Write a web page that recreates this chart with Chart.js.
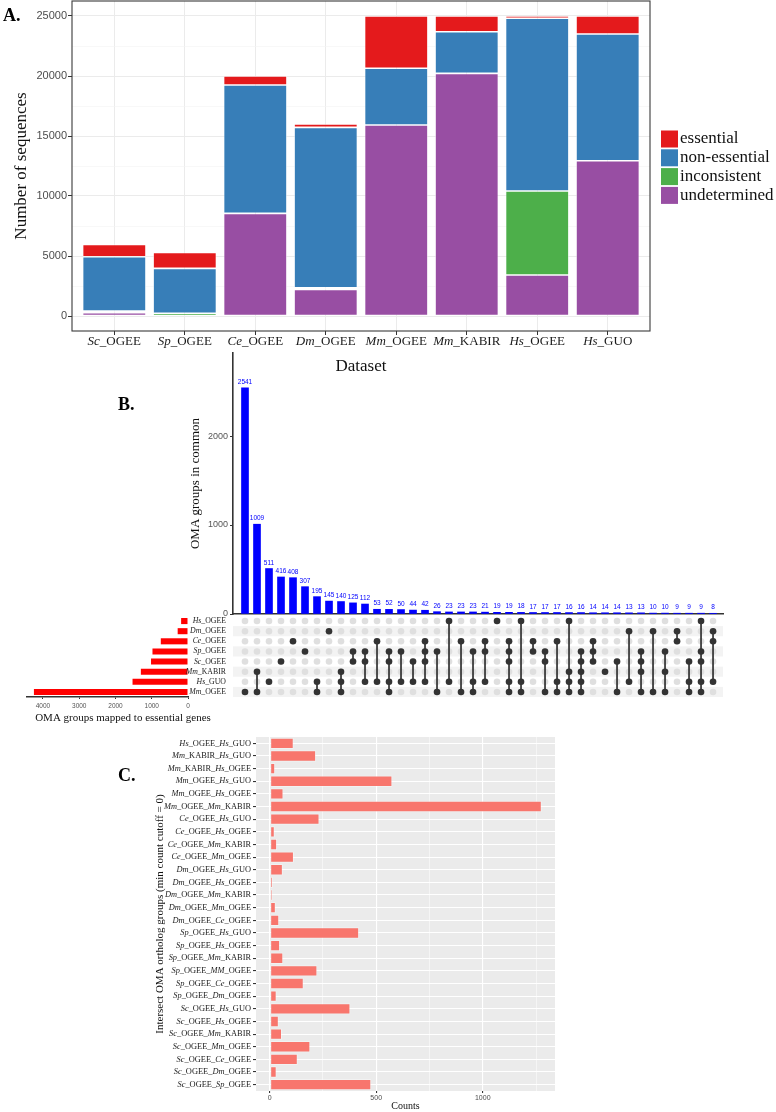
<!DOCTYPE html>
<html><head><meta charset="utf-8">
<script src="https://cdn.jsdelivr.net/npm/chart.js@4.4.1/dist/chart.umd.min.js"></script>
<style>
html,body{margin:0;padding:0;background:#ffffff;}
#wrap{position:relative;width:776px;height:1112px;overflow:hidden;background:#fff;}
#wrap canvas{position:absolute;}
</style></head><body>
<div id="wrap">
<canvas id="cA" width="776" height="385" style="left:0px;top:0px"></canvas>
<canvas id="cB" width="676" height="280" style="left:100px;top:340px"></canvas>
<canvas id="cS" width="232" height="115" style="left:0px;top:612px"></canvas>
<canvas id="cM" width="576" height="90" style="left:200px;top:612px"></canvas>
<canvas id="cC" width="676" height="382" style="left:100px;top:730px"></canvas>
</div>
<script>
const SERIF = '"Liberation Serif","Times New Roman",serif';
const SANS = '"Liberation Sans",Arial,sans-serif';

// ---------- Panel A data ----------
const datasetNames = ['Sc_OGEE','Sp_OGEE','Ce_OGEE','Dm_OGEE','Mm_OGEE','Mm_KABIR','Hs_OGEE','Hs_GUO'];
const essentialCounts = [1030,1330,750,280,4360,1310,190,1500];
const nonEssentialCounts = [4520,3740,10700,13360,4720,3470,14390,10560];
const inconsistentCounts = [140,200,0,140,0,0,7000,0];
const undeterminedCounts = [280,30,8550,2220,15920,20220,3420,12940];
const sequenceTicks = [0,5000,10000,15000,20000,25000];

// ---------- Panel B data ----------
const intersectCounts = [2541,1009,511,416,408,307,195,145,140,125,112,53,52,50,44,42,26,23,23,23,21,19,19,18,17,17,17,16,16,14,14,14,13,13,10,10,9,9,9,8];
const setNames = ['Hs_OGEE','Dm_OGEE','Ce_OGEE','Sp_OGEE','Sc_OGEE','Mm_KABIR','Hs_GUO','Mm_OGEE'];
const intersectMembers = [[7],[5,7],[6],[4],[2],[3],[6,7],[1],[5,6,7],[3,4],[3,4,6],[2,6],[3,4,6,7],[3,6],[4,6],[2,3,4,6],[3,7],[0,6],[2,7],[3,6,7],[2,3,6],[0],[2,3,4,6,7],[0,6,7],[2,3],[3,4,7],[2,6,7],[0,5,6,7],[3,4,5,6,7],[2,3,4],[5],[4,7],[1,6],[3,4,5,7],[1,7],[3,5,7],[1,2],[4,6,7],[0,3,4,6,7],[1,2,6]];
const setSizes = [190,285,750,980,1020,1300,1530,4250];
const commonTicks = [0,1000,2000];
const setSizeTicks = [0,1000,2000,3000,4000];

// ---------- Panel C data ----------
const pairLabels = ['Hs_OGEE_Hs_GUO','Mm_KABIR_Hs_GUO','Mm_KABIR_Hs_OGEE','Mm_OGEE_Hs_GUO','Mm_OGEE_Hs_OGEE','Mm_OGEE_Mm_KABIR','Ce_OGEE_Hs_GUO','Ce_OGEE_Hs_OGEE','Ce_OGEE_Mm_KABIR','Ce_OGEE_Mm_OGEE','Dm_OGEE_Hs_GUO','Dm_OGEE_Hs_OGEE','Dm_OGEE_Mm_KABIR','Dm_OGEE_Mm_OGEE','Dm_OGEE_Ce_OGEE','Sp_OGEE_Hs_GUO','Sp_OGEE_Hs_OGEE','Sp_OGEE_Mm_KABIR','Sp_OGEE_MM_OGEE','Sp_OGEE_Ce_OGEE','Sp_OGEE_Dm_OGEE','Sc_OGEE_Hs_GUO','Sc_OGEE_Hs_OGEE','Sc_OGEE_Mm_KABIR','Sc_OGEE_Mm_OGEE','Sc_OGEE_Ce_OGEE','Sc_OGEE_Dm_OGEE','Sc_OGEE_Sp_OGEE'];
const pairCounts = [113,218,26,576,65,1277,234,24,35,114,62,15,14,29,45,420,49,64,224,160,33,379,43,58,191,132,33,477];
const countTicks = [0,500,1000];

// ---------- helpers ----------
const SPECIES = new Set(['Sc','Sp','Ce','Dm','Mm','Hs','MM']);
function segments(text){
  const out=[];
  text.split('_').forEach((t,i)=>{
    const sep = i>0 ? '_' : '';
    if (SPECIES.has(t)) { if (sep) out.push({t:sep,it:false}); out.push({t:t,it:true}); }
    else out.push({t:sep+t,it:false});
  });
  const merged=[];
  out.forEach(s=>{ const l=merged[merged.length-1]; if(l && l.it===s.it) l.t+=s.t; else merged.push({t:s.t,it:s.it}); });
  return merged;
}
function drawMixed(ctx,text,x,y,size,align,color){
  const segs=segments(text);
  let total=0;
  segs.forEach(g=>{ ctx.font=(g.it?'italic ':'')+size+'px '+SERIF; g.w=ctx.measureText(g.t).width; total+=g.w; });
  let cx = align==='right' ? x-total : (align==='center' ? x-total/2 : x);
  ctx.save(); ctx.fillStyle=color; ctx.textBaseline='middle'; ctx.textAlign='left';
  segs.forEach(g=>{ ctx.font=(g.it?'italic ':'')+size+'px '+SERIF; ctx.fillText(g.t,cx,y); cx+=g.w; });
  ctx.restore();
}
function drawText(ctx,text,x,y,font,color,align){
  ctx.save(); ctx.font=font; ctx.fillStyle=color; ctx.textAlign=align||'left'; ctx.textBaseline='middle';
  ctx.fillText(text,x,y); ctx.restore();
}
function fixW(w){ return s=>{ s.width=w; s.paddingTop=0; s.paddingBottom=0; s.paddingLeft=0; s.paddingRight=0; }; }
function fixH(h){ return s=>{ s.height=h; s.paddingTop=0; s.paddingBottom=0; s.paddingLeft=0; s.paddingRight=0; }; }
function withMinor(ticks){
  const out=[];
  ticks.forEach((v,i)=>{ out.push(v); if(i<ticks.length-1) out.push((v+ticks[i+1])/2); });
  return out;
}
const base = {responsive:false, animation:false, devicePixelRatio:1, events:[],
  plugins:{legend:{display:false}, tooltip:{enabled:false}}};
const isMajor = (c, list) => c.tick && list.includes(c.tick.value);

// ---------- Panel A ----------
const pts = arr => arr.map((v,i)=>({x:i,y:v}));
const gridA = withMinor(sequenceTicks).concat([sequenceTicks[sequenceTicks.length-1]+ (sequenceTicks[1]-sequenceTicks[0])/2]);
const plugA = {id:'plugA',
  afterDraw(chart){
    const {ctx, chartArea:a, scales} = chart;
    ctx.save(); ctx.strokeStyle='#3a3a3a'; ctx.lineWidth=1.1;
    ctx.strokeRect(a.left, a.top, a.right-a.left, a.bottom-a.top); ctx.restore();
    datasetNames.forEach((n,i)=> drawMixed(ctx,n,scales.x.getPixelForValue(i),342,13,'center','#1a1a1a'));
    const ds = chart.data.datasets.slice().reverse();
    ds.forEach((d,i)=>{
      const yc = 139 + i*18.8;
      ctx.save(); ctx.fillStyle=d.backgroundColor; ctx.fillRect(661,yc-8.5,17,17); ctx.restore();
      drawText(ctx,d.label,680,yc,'17px '+SERIF,'#111','left');
    });
    drawText(ctx,'A.',3,16,'bold 18px '+SERIF,'#000','left');
  }};
new Chart(document.getElementById('cA'),{
  type:'bar',
  data:{datasets:[
    {label:'undetermined', data:pts(undeterminedCounts), backgroundColor:'#984EA3'},
    {label:'inconsistent', data:pts(inconsistentCounts), backgroundColor:'#4DAF4A'},
    {label:'non-essential', data:pts(nonEssentialCounts), backgroundColor:'#377EB8'},
    {label:'essential', data:pts(essentialCounts), backgroundColor:'#E41A1C'}
  ]},
  options:{...base,
    layout:{padding:{top:1,right:126,left:0,bottom:0}, autoPadding:false},
    datasets:{bar:{barPercentage:1, categoryPercentage:0.9, borderColor:'rgba(255,255,255,0.6)', borderWidth:0.8, borderSkipped:false}},
    scales:{
      x:{type:'linear', stacked:true, min:-0.6, max:7.6, offset:false,
        afterBuildTicks:s=>{ s.ticks = datasetNames.map((_,i)=>({value:i})); },
        ticks:{display:false},
        grid:{offset:false, color:'#EBEBEB', lineWidth:1, tickColor:'#333', tickLength:4},
        border:{display:false},
        title:{display:true, text:'Dataset', font:{family:SERIF,size:17}, color:'#111', padding:{top:0,bottom:7.8}},
        afterFit:fixH(54)},
      y:{type:'linear', stacked:true, min:-1250, max:26250,
        afterBuildTicks:s=>{ s.ticks = gridA.map(v=>({value:v})); },
        ticks:{callback:v=>sequenceTicks.includes(v)?String(v):'', font:{family:SANS,size:11}, color:'#4D4D4D', padding:1, autoSkip:false},
        grid:{color:c=>isMajor(c,sequenceTicks)?'#EBEBEB':'#F3F3F3', lineWidth:c=>isMajor(c,sequenceTicks)?1:0.6,
              tickColor:c=>isMajor(c,sequenceTicks)?'#333':'rgba(0,0,0,0)', tickLength:4},
        border:{display:false},
        title:{display:true, text:'Number of sequences', font:{family:SERIF,size:17}, color:'#111', padding:{top:11.8,bottom:0}},
        afterFit:fixW(72)}
    }},
  plugins:[plugA]
});

// ---------- Panel B (intersection bars) ----------
const plugB = {id:'plugB',
  afterDatasetsDraw(chart){
    const ctx=chart.ctx; const meta=chart.getDatasetMeta(0);
    ctx.save(); ctx.font='6.5px '+SANS; ctx.fillStyle='#0000FF'; ctx.textAlign='center'; ctx.textBaseline='bottom';
    meta.data.forEach((el,i)=>ctx.fillText(String(intersectCounts[i]), el.x, el.y-2.5));
    ctx.restore();
    drawText(ctx,'B.',18,65,'bold 18px '+SERIF,'#000','left');
  }};
new Chart(document.getElementById('cB'),{
  type:'bar',
  data:{datasets:[{data:intersectCounts.map((v,i)=>({x:i,y:v})), backgroundColor:'#0000FF', barThickness:7}]},
  options:{...base,
    layout:{padding:{top:13,right:53,left:0,bottom:0}, autoPadding:false},
    scales:{
      x:{type:'linear', min:-1, max:39.83, offset:false, ticks:{display:false}, grid:{display:false},
        border:{display:true,color:'#333',width:1.6}, afterFit:fixH(6)},
      y:{type:'linear', min:0, max:2933,
        afterBuildTicks:s=>{ s.ticks = commonTicks.map(v=>({value:v})); },
        ticks:{callback:v=>String(v), font:{family:SANS,size:9}, color:'#555', padding:2, autoSkip:false},
        grid:{drawOnChartArea:false, drawTicks:true, tickLength:3, color:'#333'},
        border:{display:true,color:'#333',width:1.6},
        title:{display:true, text:'OMA groups in common', font:{family:SERIF,size:13}, color:'#111', padding:{top:88.2,bottom:0}},
        afterFit:fixW(133)}
    }},
  plugins:[plugB]
});

// ---------- Panel B (set sizes) ----------
const plugS = {id:'plugS',
  afterDraw(chart){
    const ctx=chart.ctx; const y=chart.scales.y;
    setNames.forEach((n,i)=>drawMixed(ctx,n,226,y.getPixelForValue(i),7.8,'right','#222'));
    drawText(ctx,'OMA groups mapped to essential genes',123,106,'11px '+SERIF,'#111','center');
  }};
new Chart(document.getElementById('cS'),{
  type:'bar',
  data:{labels:setNames, datasets:[{data:setSizes, backgroundColor:'#FF0000', barPercentage:0.6, categoryPercentage:1}]},
  options:{...base, indexAxis:'y',
    layout:{padding:{top:4,right:0,left:27,bottom:0}, autoPadding:false},
    scales:{
      x:{type:'linear', reverse:true, min:0, max:4441, position:'bottom',
        afterBuildTicks:s=>{ s.ticks = setSizeTicks.map(v=>({value:v})); },
        ticks:{callback:v=>String(v), font:{family:SANS,size:6.5}, color:'#555', padding:3, autoSkip:false, maxRotation:0},
        grid:{drawOnChartArea:false, drawTicks:true, tickLength:2, color:'#333'},
        border:{display:true,color:'#333',width:1.5},
        afterFit:fixH(30)},
      y:{position:'right', ticks:{display:false}, grid:{display:false}, border:{display:false}, afterFit:fixW(44)}
    }},
  plugins:[plugS]
});

// ---------- Panel B (matrix) ----------
const gridPts=[]; intersectCounts.forEach((_,c)=>setNames.forEach((_,r)=>gridPts.push({x:c,y:r})));
const memberPts=[]; intersectMembers.forEach((m,c)=>m.forEach(r=>memberPts.push({x:c,y:r})));
const linkPts=[]; intersectMembers.forEach((m,c)=>{ if(m.length>1){ linkPts.push({x:c,y:Math.min(...m)},{x:c,y:Math.max(...m)},{x:c,y:null}); } });
const plugM = {id:'plugM',
  beforeDatasetsDraw(chart){
    const {ctx, chartArea:a, scales:{y}} = chart;
    ctx.save(); ctx.fillStyle='#F3F3F3';
    setNames.forEach((_,r)=>{ if(r%2===1){ const y0=y.getPixelForValue(r-0.5), y1=y.getPixelForValue(r+0.5); ctx.fillRect(a.left,Math.min(y0,y1),a.right-a.left,Math.abs(y1-y0)); } });
    ctx.restore();
  }};
new Chart(document.getElementById('cM'),{
  type:'scatter',
  data:{datasets:[
    {data:memberPts, backgroundColor:'#333333', borderColor:'#333333', pointRadius:3.3, borderWidth:0},
    {data:linkPts, showLine:true, spanGaps:false, borderColor:'#333333', borderWidth:1.7, pointRadius:0},
    {data:gridPts, backgroundColor:'#DFDFDF', borderColor:'#DFDFDF', pointRadius:3.3, borderWidth:0}
  ]},
  options:{...base,
    layout:{padding:{top:4,right:53,left:33,bottom:5}, autoPadding:false},
    scales:{
      x:{type:'linear', min:-1, max:39.83, display:false},
      y:{type:'linear', min:-0.5, max:7.5, reverse:true, display:false}
    }},
  plugins:[plugM]
});

// ---------- Panel C ----------
const gridC = withMinor(countTicks).concat([countTicks[countTicks.length-1]+(countTicks[1]-countTicks[0])/2]);
const plugC = {id:'plugC',
  beforeDraw(chart){
    const {ctx, chartArea:a} = chart;
    ctx.save(); ctx.fillStyle='#EBEBEB'; ctx.fillRect(a.left,a.top,a.right-a.left,a.bottom-a.top); ctx.restore();
  },
  afterDraw(chart){
    const ctx=chart.ctx; const y=chart.scales.y;
    pairLabels.forEach((n,i)=>drawMixed(ctx,n,151,y.getPixelForValue(i),8.4,'right','#222'));
    drawText(ctx,'C.',18,46,'bold 18px '+SERIF,'#000','left');
  }};
new Chart(document.getElementById('cC'),{
  type:'bar',
  data:{labels:pairLabels, datasets:[{data:pairCounts, backgroundColor:'#F8766D', borderColor:'rgba(255,255,255,0.35)', borderWidth:1, borderSkipped:false, barPercentage:0.9, categoryPercentage:1}]},
  options:{...base, indexAxis:'y',
    layout:{padding:{top:7,right:221,left:0,bottom:0}, autoPadding:false},
    scales:{
      x:{type:'linear', min:-64, max:1339,
        afterBuildTicks:s=>{ s.ticks = gridC.map(v=>({value:v})); },
        ticks:{callback:v=>countTicks.includes(v)?String(v):'', font:{family:SANS,size:7}, color:'#4D4D4D', padding:1, autoSkip:false, maxRotation:0},
        grid:{color:'#FFFFFF', lineWidth:c=>isMajor(c,countTicks)?1.1:0.5, tickColor:c=>isMajor(c,countTicks)?'#333':'rgba(0,0,0,0)', tickLength:2},
        border:{display:false},
        title:{display:true, text:'Counts', font:{family:SERIF,size:10}, color:'#111', padding:{top:0,bottom:0}},
        afterFit:fixH(21)},
      y:{ticks:{display:false}, grid:{offset:false, color:'#FFFFFF', lineWidth:1.1, tickColor:'#333', tickLength:3},
        border:{display:false},
        title:{display:true, text:'Intersect OMA ortholog groups (min count cutoff = 0)', font:{family:SERIF,size:11}, color:'#111', padding:{top:53.4,bottom:0}},
        afterFit:fixW(156)}
    }},
  plugins:[plugC]
});
</script>
</body></html>
